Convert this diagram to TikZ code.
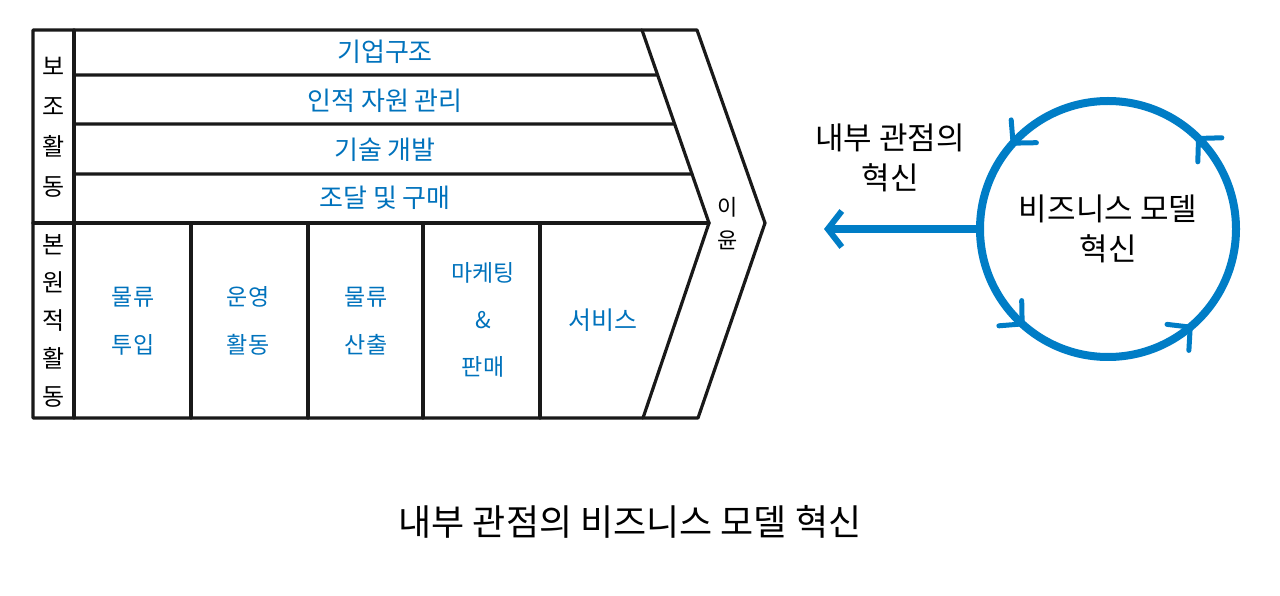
\documentclass[tikz,border=0pt]{standalone}
\usepackage{fontspec}
\setmainfont{Noto Sans CJK KR}
\usetikzlibrary{arrows.meta,positioning,calc,decorations.markings}
\definecolor{chainblue}{RGB}{0,114,188}
\definecolor{ringblue}{RGB}{0,125,198}

\newcommand{\ringtip}{\draw[ringblue,line width=5pt,line cap=round,line join=round] (-16pt,17pt) -- (0,0) -- (-16pt,-17pt);}

\begin{document}
\begin{tikzpicture}[x=1pt,y=1pt,
  frame/.style={line width=3.2pt,black!90,line cap=round,line join=round},
  support/.style={text=chainblue,font=\fontsize{26}{30}\selectfont,inner sep=0pt},
  primary/.style={text=chainblue,font=\fontsize{23}{48}\selectfont,align=center,inner sep=0pt},
  sidelabel/.style={font=\fontsize{24}{40}\selectfont,align=center,inner sep=0pt},
  ringtext/.style={font=\fontsize{31}{40}\selectfont,align=center,inner sep=0pt},
  ring/.style={draw=ringblue,line width=8pt,
    decoration={markings,
      mark=at position 0.125 with {\ringtip},
      mark=at position 0.383 with {\ringtip},
      mark=at position 0.633 with {\ringtip},
      mark=at position 0.861 with {\ringtip}},
    postaction={decorate}},
  push/.style={-{Straight Barb[length=14pt,width=36pt,line width=6pt]},draw=ringblue,line width=8pt,line cap=round}
]
  \useasboundingbox (0,0) rectangle (1280,595);

  % value chain outline
  \coordinate (tl) at (33,565);
  \coordinate (bl) at (33,177);
  \coordinate (itop) at (642,565);
  \coordinate (iapex) at (709,372);
  \coordinate (ibot) at (643,177);
  \coordinate (otop) at (697,565);
  \coordinate (oapex) at (765,372);
  \coordinate (obot) at (698,177);

  \draw[frame] (tl) -- (otop) -- (oapex) -- (obot) -- (bl) -- cycle;
  \draw[frame] (itop) -- (iapex) -- (ibot);
  \draw[frame] (74,565) -- (74,177);
  \draw[frame] (33,372) -- (iapex);
  \draw[frame] (74,520) -- ($(itop)!0.233!(iapex)$);
  \draw[frame] (74,471) -- ($(itop)!0.487!(iapex)$);
  \draw[frame] (74,421) -- ($(itop)!0.746!(iapex)$);
  \foreach \x in {191,308,423,540}
    \draw[frame] (\x,372) -- (\x,177);

  % support activities
  \node[support] (infra) at (385,543) {기업구조};
  \node[support] (hrm) at (385,494) {인적 자원 관리};
  \node[support] (tech) at (385,445) {기술 개발};
  \node[support] (procure) at (385,397) {조달 및 구매};
  \node[sidelabel] (suplabel) at (54,468) {보\\조\\활\\동};

  % primary activities
  \node[sidelabel,font=\fontsize{24}{38}\selectfont] (primlabel) at (54,274) {본\\원\\적\\활\\동};
  \node[primary] (inbound) at (133,274) {물류\\투입};
  \node[primary] (ops) at (248,274) {운영\\활동};
  \node[primary] (outbound) at (366,274) {물류\\산출};
  \node[primary,font=\fontsize{23}{47}\selectfont] (sales) at (483,275) {마케팅\\\&\\판매};
  \node[primary,font=\fontsize{25}{30}\selectfont] (service) at (603,275) {서비스};
  \node[sidelabel,font=\fontsize{22}{33}\selectfont] (margin) at (728,371) {이\\윤};

  % innovation cycle
  \node[ringtext,circle,minimum size=256pt] (bmi) at (1108,366) {비즈니스 모델\\혁신};
  \draw[ring] (bmi.center) circle[radius=128pt];
  \coordinate (tip) at (824,366);
  \draw[push] (bmi.west) -- (tip);
  \node[ringtext] (inside) at (890,437) {내부 관점의\\혁신};

  \node[font=\fontsize{36}{40}\selectfont,inner sep=0pt] (caption) at (630,73) {내부 관점의 비즈니스 모델 혁신};
\end{tikzpicture}
\end{document}
